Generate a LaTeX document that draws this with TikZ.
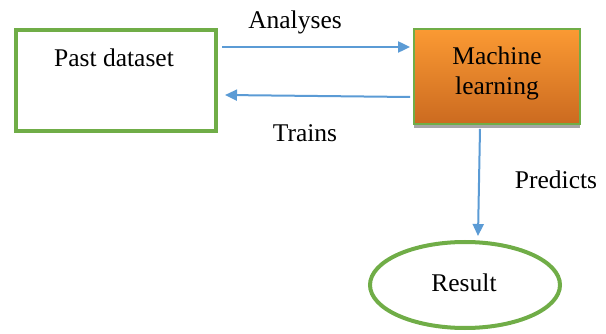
\documentclass[tikz,border=0pt]{standalone}
\usepackage{fontspec}
\setmainfont{Liberation Serif}
\usetikzlibrary{arrows.meta,shapes.geometric,shadows}
\definecolor{frame}{HTML}{70AD47}
\definecolor{flow}{HTML}{5B9BD5}
\definecolor{mltop}{HTML}{FB9A33}
\definecolor{mlbottom}{HTML}{CB6A20}
\definecolor{shade}{HTML}{A6A6A6}

\begin{document}
\begin{tikzpicture}[
  x=1pt,
  y=-1pt,
  >={Triangle[length=12pt,width=11pt]},
  txt/.style={font=\fontsize{25.5}{30}\selectfont, text=black, inner sep=0pt, align=center},
  store/.style={draw=frame, line width=4pt, fill=white,
                minimum width=200pt, minimum height=101pt},
  learner/.style={draw=frame, line width=1.8pt,
                  top color=mltop, bottom color=mlbottom,
                  minimum width=166pt, minimum height=95pt,
                  drop shadow={shadow xshift=0pt, shadow yshift=-4pt, fill=shade, opacity=1}},
  outcome/.style={ellipse, draw=frame, line width=4pt, fill=white,
                  minimum width=190pt, minimum height=86pt},
  link/.style={->, line width=2pt, color=flow},
]
\useasboundingbox (0,0) rectangle (606,334);

\node[store] (past) at (116,80.5) {};
\node[txt] (pasttext) at (114,58) {Past dataset};

\node[learner] (ml) at (497,76.5) {};
\node[txt] (mltext) at (497,73) {Machine\\learning};

\node[outcome] (res) at (465,285) {};
\node[txt] (restext) at (464,283) {Result};

% dataset goes to the learner and comes back
\draw[link] ([xshift=4pt,yshift=33.5pt]past.east) -- ([xshift=-3pt,yshift=29.5pt]ml.west);
\node[txt] (analyses) at (295,22) {Analyses};
\draw[link] ([xshift=-3pt,yshift=-20.5pt]ml.west) -- ([xshift=7pt,yshift=-14.5pt]past.east);
\node[txt] (trains) at (305,133) {Trains};

% learner output
\draw[link] ([xshift=-17pt,yshift=-4pt]ml.south) -- ([xshift=13pt,yshift=4pt]res.north);
\node[txt] (predicts) at (556,180) {Predicts};

\end{tikzpicture}
\end{document}
